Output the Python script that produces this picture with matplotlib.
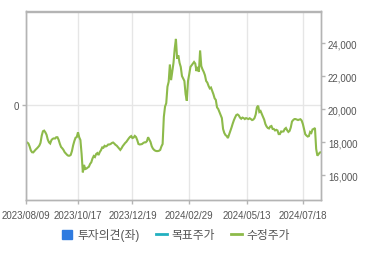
import matplotlib
matplotlib.use("Agg")
import matplotlib.pyplot as plt
from matplotlib.lines import Line2D
from matplotlib.patches import Patch
from matplotlib.ticker import FuncFormatter

plt.rcParams['font.family'] = ['Liberation Sans', 'Noto Sans CJK KR', 'DejaVu Sans']

# adjusted close, one value per trading day (2023/08/09 .. 2024/08/08)
price = [
    17980, 17970, 17910, 17730, 17490, 17380, 17370, 17460, 17540, 17610,
    17690, 17780, 17950, 18380, 18650, 18690, 18590, 18440, 18150, 17980,
    17910, 18110, 18190, 18220, 18210, 18290, 18290, 18130, 17890, 17700,
    17620, 17520, 17380, 17300, 17220, 17170, 17170, 17220, 17450, 17800,
    18060, 18260, 18300, 18590, 18290, 18120, 17270, 16160, 16610, 16360,
    16390, 16450, 16500, 16670, 16770, 17000, 17150, 17090, 17270, 17330,
    17210, 17390, 17500, 17670, 17650, 17770, 17730, 17770, 17850, 17850,
    17880, 17940, 17970, 17910, 17830, 17780, 17690, 17590, 17520, 17620,
    17750, 17850, 17940, 18010, 18120, 18220, 18310, 18360, 18240, 18270,
    18370, 18300, 18120, 17880, 17850, 17860, 17880, 17940, 17980, 17980,
    18050, 18290, 18150, 18000, 17740, 17600, 17520, 17470, 17450, 17450,
    17470, 17520, 17730, 17880, 19520, 20150, 20350, 21350, 21650, 22700,
    21750, 22300, 22800, 23650, 24250, 23050, 23250, 22800, 22550, 22000,
    21850, 21700, 20900, 20500, 21700, 22100, 22550, 22650, 22750, 22850,
    22750, 22300, 22550, 22250, 23550, 22600, 22400, 22250, 22050, 21700,
    21600, 21400, 21250, 21300, 21100, 20900, 20650, 20550, 20100, 20000,
    19820, 19640, 19450, 18790, 18550, 18420, 18360, 18240, 18450, 18670,
    18880, 19120, 19330, 19500, 19640, 19670, 19610, 19480, 19410, 19480,
    19450, 19390, 19450, 19420, 19390, 19440, 19390, 19330, 19360, 19450,
    19670, 20100, 20200, 19820, 19880, 19700, 19530, 19360, 19090, 18940,
    18850, 18820, 18940, 18970, 18790, 18790, 18700, 18740, 18700, 18480,
    18480, 18640, 18630, 18640, 18790, 18850, 18710, 18610, 18670, 18880,
    19240, 19330, 19390, 19390, 19360, 19330, 19360, 19380, 19300, 19090,
    18790, 18470, 18390, 18330, 18360, 18610, 18550, 18760, 18790, 18850,
    17580, 17170, 17270, 17360, 17380,
]

tick_labels = ['2023/08/09', '2023/10/17', '2023/12/19', '2024/02/29', '2024/05/13', '2024/07/18']
tick_idx = [0, 43, 88, 135, 183, 229]
price_ticks = [16000, 18000, 20000, 22000, 24000]
legend_labels = ['투자의견(좌)', '목표주가', '수정주가']

green = '#8dba4a'
blue = '#2f7be0'
teal = '#22b0c0'
frame = '#b4b4b4'
txt = '#555555'

fig = plt.figure(figsize=(3.70, 2.55), dpi=100)
ax = fig.add_axes([26 / 370, 1 - 201 / 255, 295 / 370, 188.5 / 255])
ax2 = ax.twinx()

x = list(range(len(price)))
ax2.plot(x, price, color=green, lw=1.5, solid_joinstyle='miter')

ax.set_xlim(0, len(price) - 1)
ax.set_xticks(tick_idx)
ax.set_xticklabels(tick_labels)
ax.set_ylim(-1.0, 0.98)
ax.set_yticks([0])
ax.grid(True, color='#e6e6e6', lw=1)
ax.set_axisbelow(True)

ax2.set_ylim(14485, 25910)
ax2.set_yticks(price_ticks)
ax2.yaxis.set_major_formatter(FuncFormatter(lambda v, p: f'{int(v):,}'))

for a in (ax, ax2):
    for s in a.spines.values():
        s.set_color(frame)
        s.set_linewidth(1)
    a.tick_params(length=3, width=1, color=frame, labelcolor=txt, labelsize=7, pad=2)
ax.tick_params(axis='x', pad=4)

handles = [
    Patch(facecolor=blue, edgecolor=blue),
    Line2D([], [], color=teal, lw=2),
    Line2D([], [], color=green, lw=2),
]
fig.legend(handles, legend_labels, loc='center', bbox_to_anchor=(176 / 370, 1 - 236 / 255),
           ncol=3, frameon=False, fontsize=8.5, handlelength=0.9, handleheight=0.8,
           handletextpad=0.4, columnspacing=1.4, labelcolor=txt)

fig.savefig('out.png', dpi=100)
